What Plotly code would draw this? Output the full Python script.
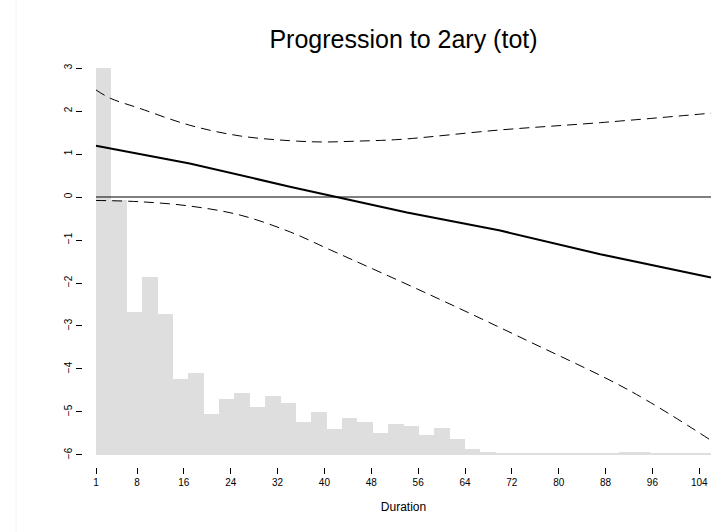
import numpy as np
import plotly.graph_objects as go

# Histogram of durations (scaled into the y range, drawn from base -6)
bin_start = 1.0
bin_width = 2.625
hist_top = [3.00, -0.08, -2.68, -1.87, -2.72, -4.23, -4.10, -5.05, -4.69, -4.57,
            -4.88, -4.64, -4.78, -5.23, -5.00, -5.40, -5.15, -5.23, -5.50, -5.28,
            -5.32, -5.54, -5.37, -5.63, -5.86, -5.94, -5.97, -5.96, -5.97, -5.96,
            -5.97, -5.96, -5.97, -5.97, -5.93, -5.93, -5.95, -5.96, -5.96, -5.96]
hist_base = -6.0

# Fitted effect and its confidence band
fit_x = [1, 17, 34.1, 42.2, 54.1, 70, 87.1, 106]
fit_y = [1.19, 0.78, 0.24, 0.00, -0.36, -0.78, -1.33, -1.87]

upper_x = [1, 3.4, 8.5, 17, 25.6, 34.1, 39.8, 45.6, 52.9, 70, 87.1, 106]
upper_y = [2.49, 2.30, 2.06, 1.67, 1.42, 1.31, 1.28, 1.30, 1.34, 1.56, 1.73, 1.95]

lower_x = [1, 8.5, 17, 25.6, 34.1, 41, 58.1, 75.1, 92.2, 106]
lower_y = [-0.08, -0.11, -0.21, -0.42, -0.81, -1.23, -2.28, -3.37, -4.51, -5.66]

ref_x = [1, 106]
ref_y = [0, 0]

x_ticks = [1, 8, 16, 24, 32, 40, 48, 56, 64, 72, 80, 88, 96, 104]
y_ticks = [3, 2, 1, 0, -1, -2, -3, -4, -5, -6]

font = "Liberation Sans, Arial, Helvetica, sans-serif"

centers = bin_start + bin_width * (np.arange(len(hist_top)) + 0.5)
heights = np.array(hist_top) - hist_base

fig = go.Figure()
fig.add_trace(go.Bar(x=centers, y=heights, base=hist_base, width=bin_width,
                     marker=dict(color="#dedede", line=dict(width=0)),
                     hoverinfo="skip", showlegend=False))
fig.add_trace(go.Scatter(x=ref_x, y=ref_y, mode="lines",
                         line=dict(color="black", width=1), showlegend=False))
fig.add_trace(go.Scatter(x=upper_x, y=upper_y, mode="lines", line_shape="spline",
                         line=dict(color="black", width=1, dash="10px,6px"),
                         showlegend=False))
fig.add_trace(go.Scatter(x=lower_x, y=lower_y, mode="lines", line_shape="spline",
                         line=dict(color="black", width=1, dash="10px,6px"),
                         showlegend=False))
fig.add_trace(go.Scatter(x=fit_x, y=fit_y, mode="lines",
                         line=dict(color="black", width=2), showlegend=False))

# faint page edge on the left
fig.add_shape(type="line", xref="paper", yref="paper",
              x0=(16 - 83) / 641, x1=(16 - 83) / 641, y0=-65 / 411, y1=1 + 56 / 411,
              line=dict(color="#f4f4f4", width=1))

fig.update_layout(
    width=727, height=532,
    margin=dict(l=83, r=3, t=56, b=65),
    paper_bgcolor="white", plot_bgcolor="white",
    bargap=0,
    font=dict(family=font, color="black"),
    title=dict(text="Progression to 2ary (tot)", x=(83 + 724) / 2 / 727, xanchor="center",
               y=1 - 39 / 532, yanchor="middle", yref="container",
               font=dict(size=25, family=font, color="black")),
    xaxis=dict(range=[-1.22, 108.22], tickmode="array", tickvals=x_ticks,
               ticks="outside", ticklen=6, tickwidth=1, tickcolor="black",
               showgrid=False, zeroline=False, showline=False,
               tickfont=dict(size=10, family=font, color="black"),
               title=dict(text="Duration", font=dict(size=12, family=font, color="black"),
                          standoff=15)),
    yaxis=dict(range=[-6.28, 3.28], tickmode="array", tickvals=y_ticks,
               ticks="outside", ticklen=6, tickwidth=1, tickcolor="black",
               tickangle=-90,
               showgrid=False, zeroline=False, showline=False,
               tickfont=dict(size=10, family=font, color="black")),
)

fig.write_html("out.html")
